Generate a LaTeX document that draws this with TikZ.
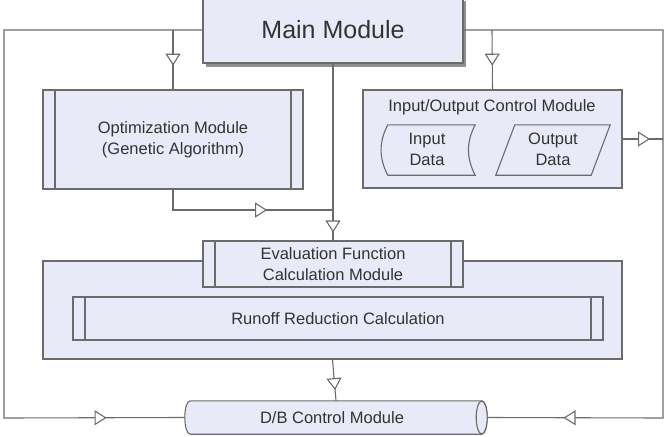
\documentclass[tikz,border=0pt]{standalone}
\usepackage{fontspec}
\setmainfont{Liberation Sans}
\usetikzlibrary{arrows.meta,decorations.markings,shadows}
\definecolor{boxfill}{HTML}{E8EBF7}
\definecolor{lineclr}{HTML}{6B6B6B}
\definecolor{ink}{HTML}{333333}
\begin{document}
\begin{tikzpicture}[x=1pt,y=-1pt,
  box/.style={draw=lineclr, fill=boxfill, line width=1.1pt, rectangle, inner sep=0pt,
    text=ink, font=\fontsize{16.5}{21}\selectfont, align=center},
  proc/.style={box, path picture={\draw[lineclr,line width=1.1pt]
    ([xshift=12pt]path picture bounding box.north west) -- ([xshift=12pt]path picture bounding box.south west)
    ([xshift=-12pt]path picture bounding box.north east) -- ([xshift=-12pt]path picture bounding box.south east);}},
  txt/.style={text=ink, font=\fontsize{16.5}{21}\selectfont, align=center, inner sep=0pt},
  shapeline/.style={lineclr, line width=1.1pt, fill=boxfill},
  conn/.style={draw=lineclr, line width=1.1pt},
  midtri/.style={postaction={decorate,decoration={markings,mark=at position #1 with
    {\arrow[lineclr,line width=1.1pt]{Triangle[open,length=12pt,width=15pt,fill=white]}}}}}
]
\useasboundingbox (0,0) rectangle (666,436);
\clip (0,0) rectangle (666,436);

% main module
\node[box, minimum width=260pt, minimum height=66pt, font=\fontsize{25}{30}\selectfont,
  drop shadow={shadow xshift=3pt, shadow yshift=-4pt, fill=black!55, opacity=0.8}] (main) at (333,30) {Main Module};

% optimization
\node[proc, minimum width=260pt, minimum height=99pt] (opt) at (173,139.5) {Optimization Module\\(Genetic Algorithm)};

% I/O
\node[box, minimum width=259pt, minimum height=98pt] (io) at (492.5,139) {};
\node[txt] (iot) at (492,107) {Input/Output Control Module};
\node[minimum width=92pt, minimum height=50pt, inner sep=0pt] (in) at (429,150) {};
\draw[shapeline]
  ([xshift=5pt]in.north west) -- (in.north east)
  .. controls +(-9,17) and +(-9,-17) .. (in.south east)
  -- ([xshift=5pt]in.south west)
  .. controls +(-9,-17) and +(-9,17) .. ([xshift=5pt]in.north west) -- cycle;
\node[txt] (intext) at (427,149) {Input\\Data};
\node[minimum width=114pt, minimum height=50pt, inner sep=0pt] (out) at (553,150) {};
\draw[shapeline]
  ([xshift=19pt]out.north west) -- (out.north east) -- ([xshift=-19pt]out.south east) -- (out.south west) -- cycle;
\node[txt] (outtext) at (553,149) {Output\\Data};

% evaluation
\node[box, minimum width=579pt, minimum height=98pt] (evalc) at (332.5,310) {};
\node[proc, minimum width=260pt, minimum height=46pt] (eval) at (333,264) {Evaluation Function\\Calculation Module};
\node[proc, minimum width=530pt, minimum height=43pt] (runoff) at (338,318.5) {Runoff Reduction Calculation};

% database (horizontal cylinder)
\node[minimum width=302pt, minimum height=33pt, inner sep=0pt] (db) at (336,417.5) {};
\draw[shapeline]
  ([xshift=5.5pt]db.north west) -- ([xshift=-5.5pt]db.north east)
  .. controls +(7.3,0) and +(7.3,0) .. ([xshift=-5.5pt]db.south east)
  -- ([xshift=5.5pt]db.south west)
  .. controls +(-7.3,0) and +(-7.3,0) .. ([xshift=5.5pt]db.north west) -- cycle;
\draw[shapeline] ([xshift=-5.5pt]db.east) ellipse [x radius=5.5, y radius=16.5];
\node[txt] (dbtext) at (332,417.5) {D/B Control Module};

% junction coordinates
\coordinate (b1) at (173,30);
\coordinate (b2) at (492,30);
\coordinate (j) at (333,210);
\coordinate (lc) at (4,418);
\coordinate (rc) at (663,418);

% connectors
\draw[conn, midtri=0.898] (main.west) -| (lc) -- (db.west);
\draw[conn, midtri=0.9] (main.east) -| (rc) -- (db.east);
\draw[conn, midtri=0.6] (b1) -- (opt.north);
\draw[conn, midtri=0.6] (b2) -- (io.north);
\draw[conn, midtri=0.955] (main.south) -- (eval.north);
\draw[conn, midtri=0.635] (opt.south) |- (j);
\draw[conn, midtri=0.68] (io.east) -- (io.east -| rc);
\draw[conn, midtri=0.74] (evalc.south) -- (db.north);
\end{tikzpicture}
\end{document}
